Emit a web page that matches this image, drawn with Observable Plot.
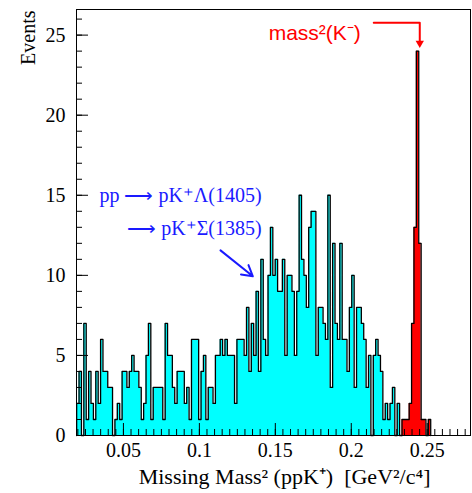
<!DOCTYPE html>
<html><head><meta charset="utf-8">
<script src="https://cdn.jsdelivr.net/npm/d3@7"></script>
<script src="https://cdn.jsdelivr.net/npm/@observablehq/plot@0.6"></script>
<style>body{margin:0;background:#fff}</style>
</head><body><div id="chart"></div>
<script>
// histogram binning (GeV^2/c^4)
const binStart = 0.0192;
const binWidth = 0.001575;
// pp -> pK+ Lambda(1405) / Sigma(1385) events (cyan)
const cyanCounts = [2,4,0,7,1,4,2,1,4,2, 6,4,4,3,3,0,1,2,1,4, 4,3,4,5,4,4,3,1,2,5, 7,1,3,3,3,3,1,7,5,5,
  3,2,4,4,4,2,3,1,6,6, 6,1,4,5,1,3,3,2,5,5, 6,5,6,5,5,5,2,6,6,6, 5,8,4,7,5,9,4,11,6,5,
  10,13,10,11,9,9,11,5,10,10, 9,5,9,15,11,10,8,13,14,14, 5,8,8,7,6,15,3,12,7,6, 12,6,6,4,8,10,3,8,8,7,
  6,3,5,0,5,6,5,4,1,2, 1,2,3,0,2,0];
// K- missing-mass peak (red), starting right after the cyan bins
const redCounts = [1,1,1,2,7,13,24,12,1,1,0,1];
const redStartBin = cyanCounts.length;
const xTickLabels = [0.05, 0.1, 0.15, 0.2, 0.25];
const yTickLabels = [0, 5, 10, 15, 20, 25];
const xMinorTicks = d3.range(0.02, 0.2751, 0.005);
const yMinorTicks = d3.range(0, 27, 1);

function outline(counts, offset) {
  const pts = [{x: binStart + offset * binWidth, y: 0}];
  counts.forEach((c, i) => pts.push({x: binStart + (offset + i) * binWidth, y: c}));
  const end = binStart + (offset + counts.length) * binWidth;
  pts.push({x: end, y: counts[counts.length - 1]});
  pts.push({x: end, y: 0});
  return pts;
}
const cyanPts = outline(cyanCounts, 0);
const redPts = outline(redCounts, redStartBin);

const blueLabels = [
  {x: 0.141, y: 14.95, t: "pp \u27F6 pK\u207A\u039B(1405)"},
  {x: 0.141, y: 12.95, t: "\u27F6 pK\u207A\u03A3(1385)"}
];
const blueArrow = [{x1: 0.1139, y1: 11.56, x2: 0.1352, y2: 9.94}];
const redLabel = [{x: 0.1456, y: 25.1, t: "mass\u00B2(K\u207B)"}];
const redPath = [{x: 0.2148, y: 25.77}, {x: 0.2451, y: 25.77}, {x: 0.2451, y: 24.5}];
const redHead = [{x: 0.2451, y: 24.5}];

const serif = "Liberation Serif, Times New Roman, serif";
const chart = Plot.plot({
  width: 472, height: 493,
  marginLeft: 76, marginRight: 2, marginTop: 9, marginBottom: 58,
  style: {fontFamily: serif, fontSize: "20px", background: "white", overflow: "visible"},
  x: {domain: [0.0191, 0.2785]},
  y: {domain: [0, 26.6]},
  marks: [
    Plot.areaY(cyanPts, {x: "x", y: "y", curve: "step-after", fill: "#00ffff"}),
    Plot.line(cyanPts, {x: "x", y: "y", curve: "step-after", stroke: "#000", strokeWidth: 1.3}),
    Plot.areaY(redPts, {x: "x", y: "y", curve: "step-after", fill: "#ff0000"}),
    Plot.line(redPts, {x: "x", y: "y", curve: "step-after", stroke: "#000", strokeWidth: 1.3}),
    Plot.frame({stroke: "#000", strokeWidth: 1}),
    Plot.axisX({ticks: xTickLabels, tickSize: 12, dy: -12, text: null, label: null}),
    Plot.axisX({ticks: xMinorTicks, tickSize: 6, dy: -6, text: null, label: null}),
    Plot.axisX({ticks: xTickLabels, tickSize: 0, tickPadding: 7, fontSize: 20, fontFamily: serif, label: null,
      tickFormat: d => String(+d.toFixed(3))}),
    Plot.axisY({ticks: yTickLabels, tickSize: 12, dx: 12, text: null, label: null}),
    Plot.axisY({ticks: yMinorTicks, tickSize: 6, dx: 6, text: null, label: null}),
    Plot.axisY({ticks: yTickLabels, tickSize: 0, tickPadding: 11, fontSize: 20, fontFamily: serif, label: null}),
    Plot.text(["Missing Mass\u00B2 (ppK\u207A)  [GeV\u00B2/c\u2074]"], {frameAnchor: "bottom-right", textAnchor: "end",
      dx: -40, dy: 48, fontSize: 22, fontFamily: serif, fill: "#000"}),
    Plot.text(["Events"], {frameAnchor: "top-left", rotate: -90, textAnchor: "end", dx: -56, dy: 1, fontSize: 20, fontFamily: serif, fill: "#000"}),
    Plot.text(blueLabels, {x: "x", y: "y", text: "t", textAnchor: "end", fill: "#1a1aff", fontSize: 20, fontFamily: serif}),
    Plot.arrow(blueArrow, {x1: "x1", y1: "y1", x2: "x2", y2: "y2", stroke: "#1a1aff", strokeWidth: 2, headLength: 9}),
    Plot.text(redLabel, {x: "x", y: "y", text: "t", textAnchor: "start", fill: "#ff0000", fontSize: 21,
      fontFamily: "Liberation Sans, Arial, sans-serif"}),
    Plot.line(redPath, {x: "x", y: "y", stroke: "#ff0000", strokeWidth: 2}),
    Plot.dot(redHead, {x: "x", y: "y", symbol: "triangle2", rotate: 180, r: 4, fill: "#ff0000", stroke: "none"})
  ]
});
document.getElementById("chart").appendChild(chart);
</script>
</body></html>
